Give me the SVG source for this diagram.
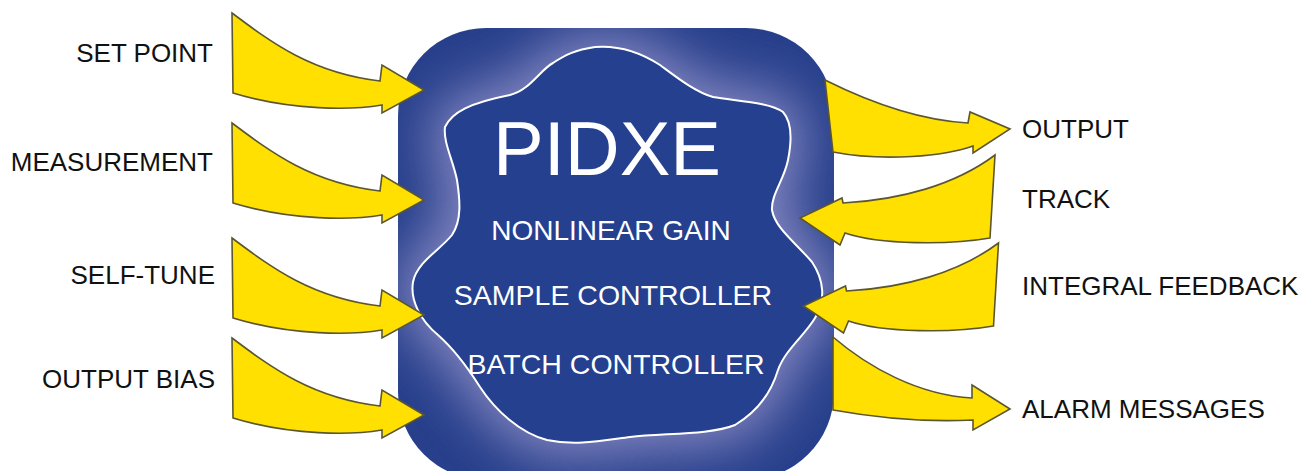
<svg xmlns="http://www.w3.org/2000/svg" width="1305" height="471" viewBox="0 0 1305 471">
  <style>
    .arrow { fill: #FFE000; stroke: #5b5632; stroke-width: 1.6; stroke-linejoin: miter; }
    .label { font-family: "Liberation Sans", Arial, sans-serif; font-size: 26px; fill: #111111; }
    .inner { font-family: "Liberation Sans", Arial, sans-serif; fill: #ffffff; text-anchor: middle; }
  </style>
  <defs>
    <clipPath id="boxClip">
      <rect x="398" y="28" width="436" height="452" rx="88" ry="88"/>
    </clipPath>
    <filter id="glowBlur" x="-30%" y="-30%" width="160%" height="160%">
      <feGaussianBlur stdDeviation="26"/>
    </filter>
    <path id="blobShape" d="M445,127 C452,112 470,103 510,95 C530,90 540,70 553,63 C565,55 575,50 595,47 C620,45 640,52 660,65 C675,76 695,92 713,97 C735,101 770,102 783,112 C792,122 792,140 788,160 C784,180 771,195 772,210 C775,228 795,242 812,262 C824,280 826,300 815,318 C805,335 785,350 778,370 C772,390 760,410 735,425 C710,435 665,433 630,437 C600,441 575,446 547,440 C520,433 495,410 480,387 C468,368 455,350 438,335 C420,320 410,300 413,282 C417,262 440,250 452,235 C462,220 460,200 457,180 C453,160 443,142 445,127 Z"/>
    <path id="leftArrow" d="M0,0 C40,30 80,60 148,68 L150,52 L192,77 L150,100 L150,92 C120,97 60,98 1,80 Z"/>
  </defs>

  <!-- controller block with its inner glow -->
  <g id="controller">
    <rect x="398" y="28" width="436" height="452" rx="88" ry="88" fill="#28408C"/>
    <g clip-path="url(#boxClip)">
      <use href="#blobShape" fill="#9090c8" stroke="#9090c8" stroke-width="30" filter="url(#glowBlur)" opacity="0.88"/>
    </g>
    <use href="#blobShape" fill="#25408F" stroke="#ffffff" stroke-width="2"/>
    <text class="inner" x="607" y="175" font-size="76">PIDXE</text>
    <text class="inner" x="611" y="240" font-size="28">NONLINEAR GAIN</text>
    <text class="inner" x="613" y="305" font-size="28.5">SAMPLE CONTROLLER</text>
    <text class="inner" x="616" y="374" font-size="28.5">BATCH CONTROLLER</text>
  </g>

  <!-- signal arrows -->
  <g id="connectors">
    <use class="arrow" href="#leftArrow" transform="translate(232,13)"/>
    <use class="arrow" href="#leftArrow" transform="translate(232,123)"/>
    <use class="arrow" href="#leftArrow" transform="translate(232,238)"/>
    <use class="arrow" href="#leftArrow" transform="translate(232,338)"/>
    <path class="arrow" d="M825,80 C865,100 915,120 968,123 L970,112 L1010,129 L973,153 L973,146 C945,156 885,162 833,152 Z"/>
    <path class="arrow" d="M995,155 C955,185 900,200 843,203 L842,198 L800,218 L840,245 L845,233 C880,245 950,245 990,238 Z"/>
    <path class="arrow" d="M995,155 C955,185 900,200 843,203 L842,198 L800,218 L840,245 L845,233 C880,245 950,245 990,238 Z" transform="translate(3.5,88)"/>
    <path class="arrow" d="M833,337 C868,367 918,395 972,398 L972,385 L1010,409 L973,430 L973,420 C933,422 883,419 833,410 Z"/>
  </g>

  <g id="set-point"><text class="label" x="213" y="62" text-anchor="end">SET POINT</text></g>
  <g id="measurement"><text class="label" x="213" y="171" text-anchor="end">MEASUREMENT</text></g>
  <g id="self-tune"><text class="label" x="215" y="284" text-anchor="end">SELF-TUNE</text></g>
  <g id="output-bias"><text class="label" x="215" y="388" text-anchor="end">OUTPUT BIAS</text></g>
  <g id="output"><text class="label" x="1022" y="138">OUTPUT</text></g>
  <g id="track"><text class="label" x="1022" y="208">TRACK</text></g>
  <g id="integral-feedback"><text class="label" x="1022" y="295">INTEGRAL FEEDBACK</text></g>
  <g id="alarm-messages"><text class="label" x="1022" y="418">ALARM MESSAGES</text></g>
</svg>
